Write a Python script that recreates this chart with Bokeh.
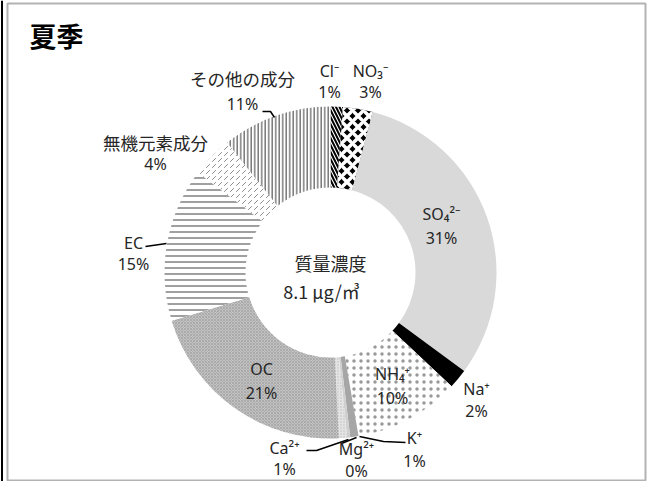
import numpy as np
from bokeh.plotting import figure
from bokeh.models import Range1d, ColumnDataSource, BoxAnnotation, Span
from bokeh.embed import file_html
from bokeh.resources import INLINE
from bokeh.core.properties import value

# ---------------- data ----------------
title = "夏季"
components = ["Cl⁻", "NO₃⁻", "SO₄²⁻", "Na⁺", "NH₄⁺", "K⁺", "Mg²⁺", "Ca²⁺",
              "OC", "EC", "無機元素成分", "その他の成分"]
shares = [1.2, 2.9, 31.0, 1.9, 10.3, 0.8, 0.3, 0.8, 21.1, 15.0, 4.0, 10.7]
center_title = "質量濃度"
center_value = "8.1 μg/㎥"

# ---------------- styles ----------------
fill_colors = ["white", "black", "#d9d9d9", "black", "white", "#a6a6a6", "#cfcfcf",
               "#e4e4e4", "#c2c2c2", "white", "white", "white"]
hatch_patterns = ["left_diagonal_line", "diagonal_cross", None, None, "dot", None, None,
                  "dot", "diagonal_cross", "horizontal_line", "right_diagonal_dash", "vertical_line"]
hatch_colors = ["black", "white", "black", "black", "black", "black", "black",
                "#bdbdbd", "#9a9a9a", "#808080", "#8c8c8c", "#7a7a7a"]
hatch_alphas = [1, 1, 1, 1, 0.4, 1, 1, 1, 1, 1, 1, 1]
hatch_scales = [7, 11, 6, 6, 7, 6, 6, 3, 3, 6, 6, 3.5]
hatch_weights = [2, 3.5, 1, 1, 0.1, 1, 1, 1, 0.6, 1.5, 1, 1.5]

# layout (screen pixel coords)
cx, cy = 330, 272
r_out, r_in = 166, 85
label_x = [329, 370, 441, 476, 392, 414, 356, 284, 261, 133, 155, 242]
name_y = [70, 70, 213, 388, 373, 437, 448, 447, 368, 242, 142, 78]
pct_y = [91, 91, 237, 410, 397, 460, 470, 468, 392, 263, 163, 103]
leaders = [
    ([262, 270, 274], [111, 111, 117]),        # その他
    ([145, 152, 166], [246, 245, 243]),        # EC
    ([306, 316, 348], [450, 450, 439]),        # Ca
    ([356, 341], [437, 443]),                  # Mg
    ([359, 383, 405], [436, 441, 442]),        # K
]

W, H = 647, 481
p = figure(width=W, height=H, output_backend="svg", toolbar_location=None,
           x_range=Range1d(0, W), y_range=Range1d(-H, 0), min_border=0)
p.axis.visible = False
p.grid.visible = False
p.outline_line_color = None
p.background_fill_color = "white"
p.border_fill_color = "white"

# border box
p.add_layout(BoxAnnotation(left=7, right=645, bottom=-480, top=-3,
                           fill_alpha=0, line_color="black", line_width=2))
p.add_layout(Span(location=1.5, dimension="height", line_color="black", line_width=2))

vals = np.array(shares, dtype=float)
frac = vals / vals.sum()
cum = np.concatenate([[0], np.cumsum(frac)])
start = np.pi / 2 - 2 * np.pi * cum[:-1]
end = np.pi / 2 - 2 * np.pi * cum[1:]

for i in range(len(components)):
    kw = dict(x=cx, y=-cy, inner_radius=r_in, outer_radius=r_out,
              start_angle=start[i], end_angle=end[i], direction="clock",
              fill_color=fill_colors[i], line_color=None)
    if hatch_patterns[i]:
        kw.update(hatch_pattern=value(hatch_patterns[i]), hatch_color=hatch_colors[i],
                  hatch_alpha=hatch_alphas[i],
                  hatch_scale=hatch_scales[i], hatch_weight=hatch_weights[i])
    p.annular_wedge(**kw)

# leader lines
p.multi_line(xs=[l[0] for l in leaders], ys=[[-v for v in l[1]] for l in leaders],
             line_color="black", line_width=1.5)

cjk = "Noto Sans CJK JP"
lat = "Noto Sans"
is_jp = [any(ord(ch) > 0x3000 for ch in c) for c in components]
names_src = ColumnDataSource(dict(
    x=label_x, y=[-v for v in name_y], text=components,
    font=[cjk if j else lat for j in is_jp],
    size=["17.5px" if j else "16px" for j in is_jp]))
p.text(x="x", y="y", text="text", source=names_src, text_font="font",
       text_font_size="size", text_align="center", text_baseline="middle",
       text_color="#262626")
pct_src = ColumnDataSource(dict(
    x=label_x, y=[-v for v in pct_y], text=[f"{round(v)}%" for v in shares]))
p.text(x="x", y="y", text="text", source=pct_src, text_font=value(lat),
       text_font_size="16px", text_align="center", text_baseline="middle",
       text_color="#262626")

# centre text
p.text(x=[cx, cx - 9], y=[-262, -290], text=[center_title, center_value],
       text_font=value(cjk), text_font_size="18px", text_align="center",
       text_baseline="middle", text_color="#262626")

# title
p.text(x=[29], y=[-35], text=[title], text_font=value(cjk), text_font_size="27px",
       text_font_style="bold", text_align="left", text_baseline="middle",
       text_color="black")

open("out.html", "w").write(file_html(p, INLINE))
